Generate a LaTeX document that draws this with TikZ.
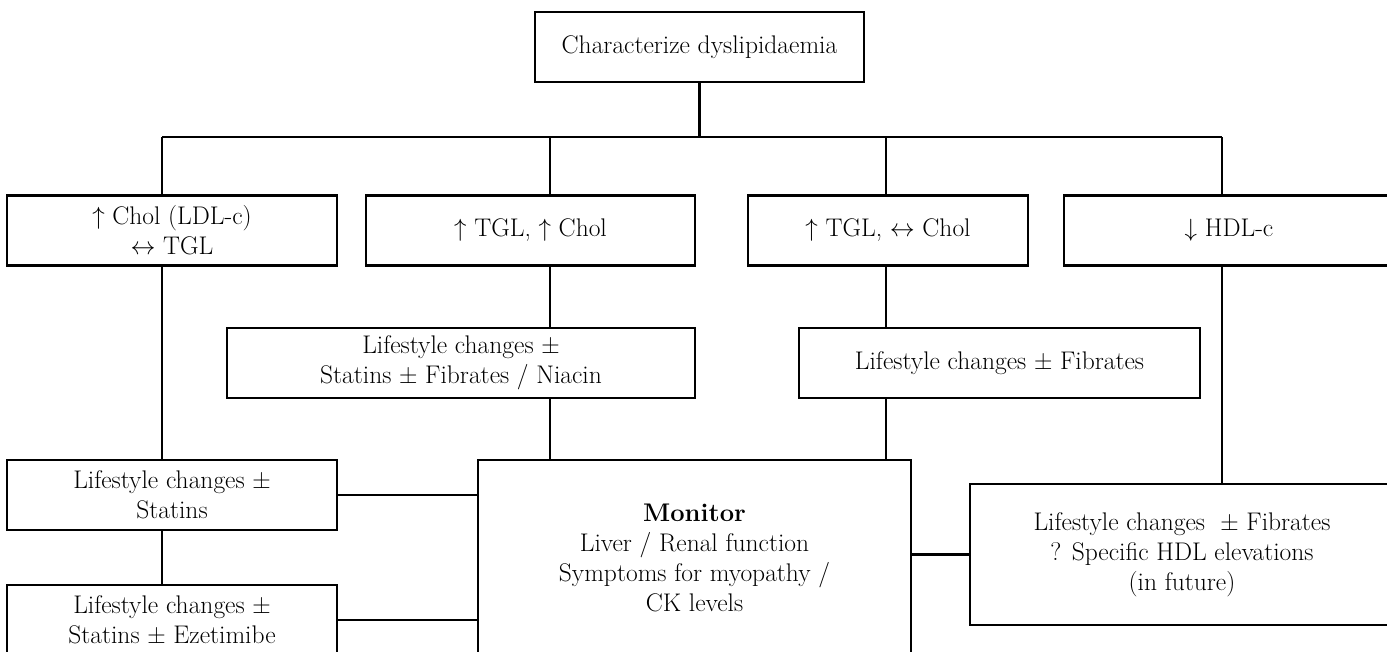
\documentclass[tikz,border=0pt]{standalone}
\begin{document}
\begin{tikzpicture}[x=1pt,y=-1pt,
  box/.style={draw=black,line width=2.2pt,rectangle,inner sep=0pt,align=center,
    font=\fontsize{25.5}{30}\selectfont},
  conn/.style={draw=black,line width=2.2pt}]
\useasboundingbox (0,0) rectangle (1387,651);
\clip (0,0) rectangle (1387,651);
\node[box,minimum width=329pt,minimum height=70pt] (top) at (699.5,47) {Characterize dyslipidaemia};
\node[box,minimum width=330pt,minimum height=70pt] (b1) at (172,230.5) {$\uparrow$ Chol (LDL-c)\\$\leftrightarrow$ TGL};
\node[box,minimum width=329pt,minimum height=70pt] (b2) at (530.5,230.5) {$\uparrow$ TGL, $\uparrow$ Chol};
\node[box,minimum width=280pt,minimum height=70pt] (b3) at (888,230.5) {$\uparrow$ TGL, $\leftrightarrow$ Chol};
\node[box,minimum width=330pt,minimum height=70pt] (b4) at (1229,230.5) {$\downarrow$ HDL-c};
\node[box,minimum width=468pt,minimum height=70pt] (n2) at (461,363) {Lifestyle changes ±\\Statins ± Fibrates / Niacin};
\node[box,minimum width=401pt,minimum height=70pt] (f3) at (999.5,363) {Lifestyle changes ± Fibrates};
\node[box,minimum width=330pt,minimum height=70pt] (s1) at (172,495) {Lifestyle changes ±\\Statins};
\node[box,minimum width=330pt,minimum height=70pt] (e1) at (172,620) {Lifestyle changes ±\\Statins ± Ezetimibe};
\node[box,minimum width=433pt,minimum height=195pt] (mon) at (694.5,557.5) {\textbf{Monitor}\\Liver / Renal function\\Symptoms for myopathy /\\CK levels};
\node[box,minimum width=424pt,minimum height=141pt] (hdl) at (1182,554.5) {Lifestyle changes ~± Fibrates\\? Specific HDL elevations\\(in future)};
\coordinate (x1) at (162,137);
\coordinate (x2) at (550,137);
\coordinate (x3) at (886,137);
\coordinate (x4) at (1222,137);
\draw[conn] (top.south) -- (top.south |- x1);
\draw[conn] (x1) -- (x4);
\draw[conn] (x1) -- (x1 |- b1.north);
\draw[conn] (x2) -- (x2 |- b2.north);
\draw[conn] (x3) -- (x3 |- b3.north);
\draw[conn] (x4) -- (x4 |- b4.north);
\draw[conn] (x1 |- b1.south) -- (x1 |- s1.north);
\draw[conn] (x1 |- s1.south) -- (x1 |- e1.north);
\draw[conn] (x2 |- b2.south) -- (x2 |- n2.north);
\draw[conn] (x2 |- n2.south) -- (x2 |- mon.north);
\draw[conn] (x3 |- b3.south) -- (x3 |- f3.north);
\draw[conn] (x3 |- f3.south) -- (x3 |- mon.north);
\draw[conn] (x4 |- b4.south) -- (x4 |- hdl.north);
\draw[conn] (s1.east) -- (s1.east -| mon.west);
\draw[conn] (e1.east) -- (e1.east -| mon.west);
\draw[conn] (hdl.west -| mon.east) -- (hdl.west);
\end{tikzpicture}
\end{document}
